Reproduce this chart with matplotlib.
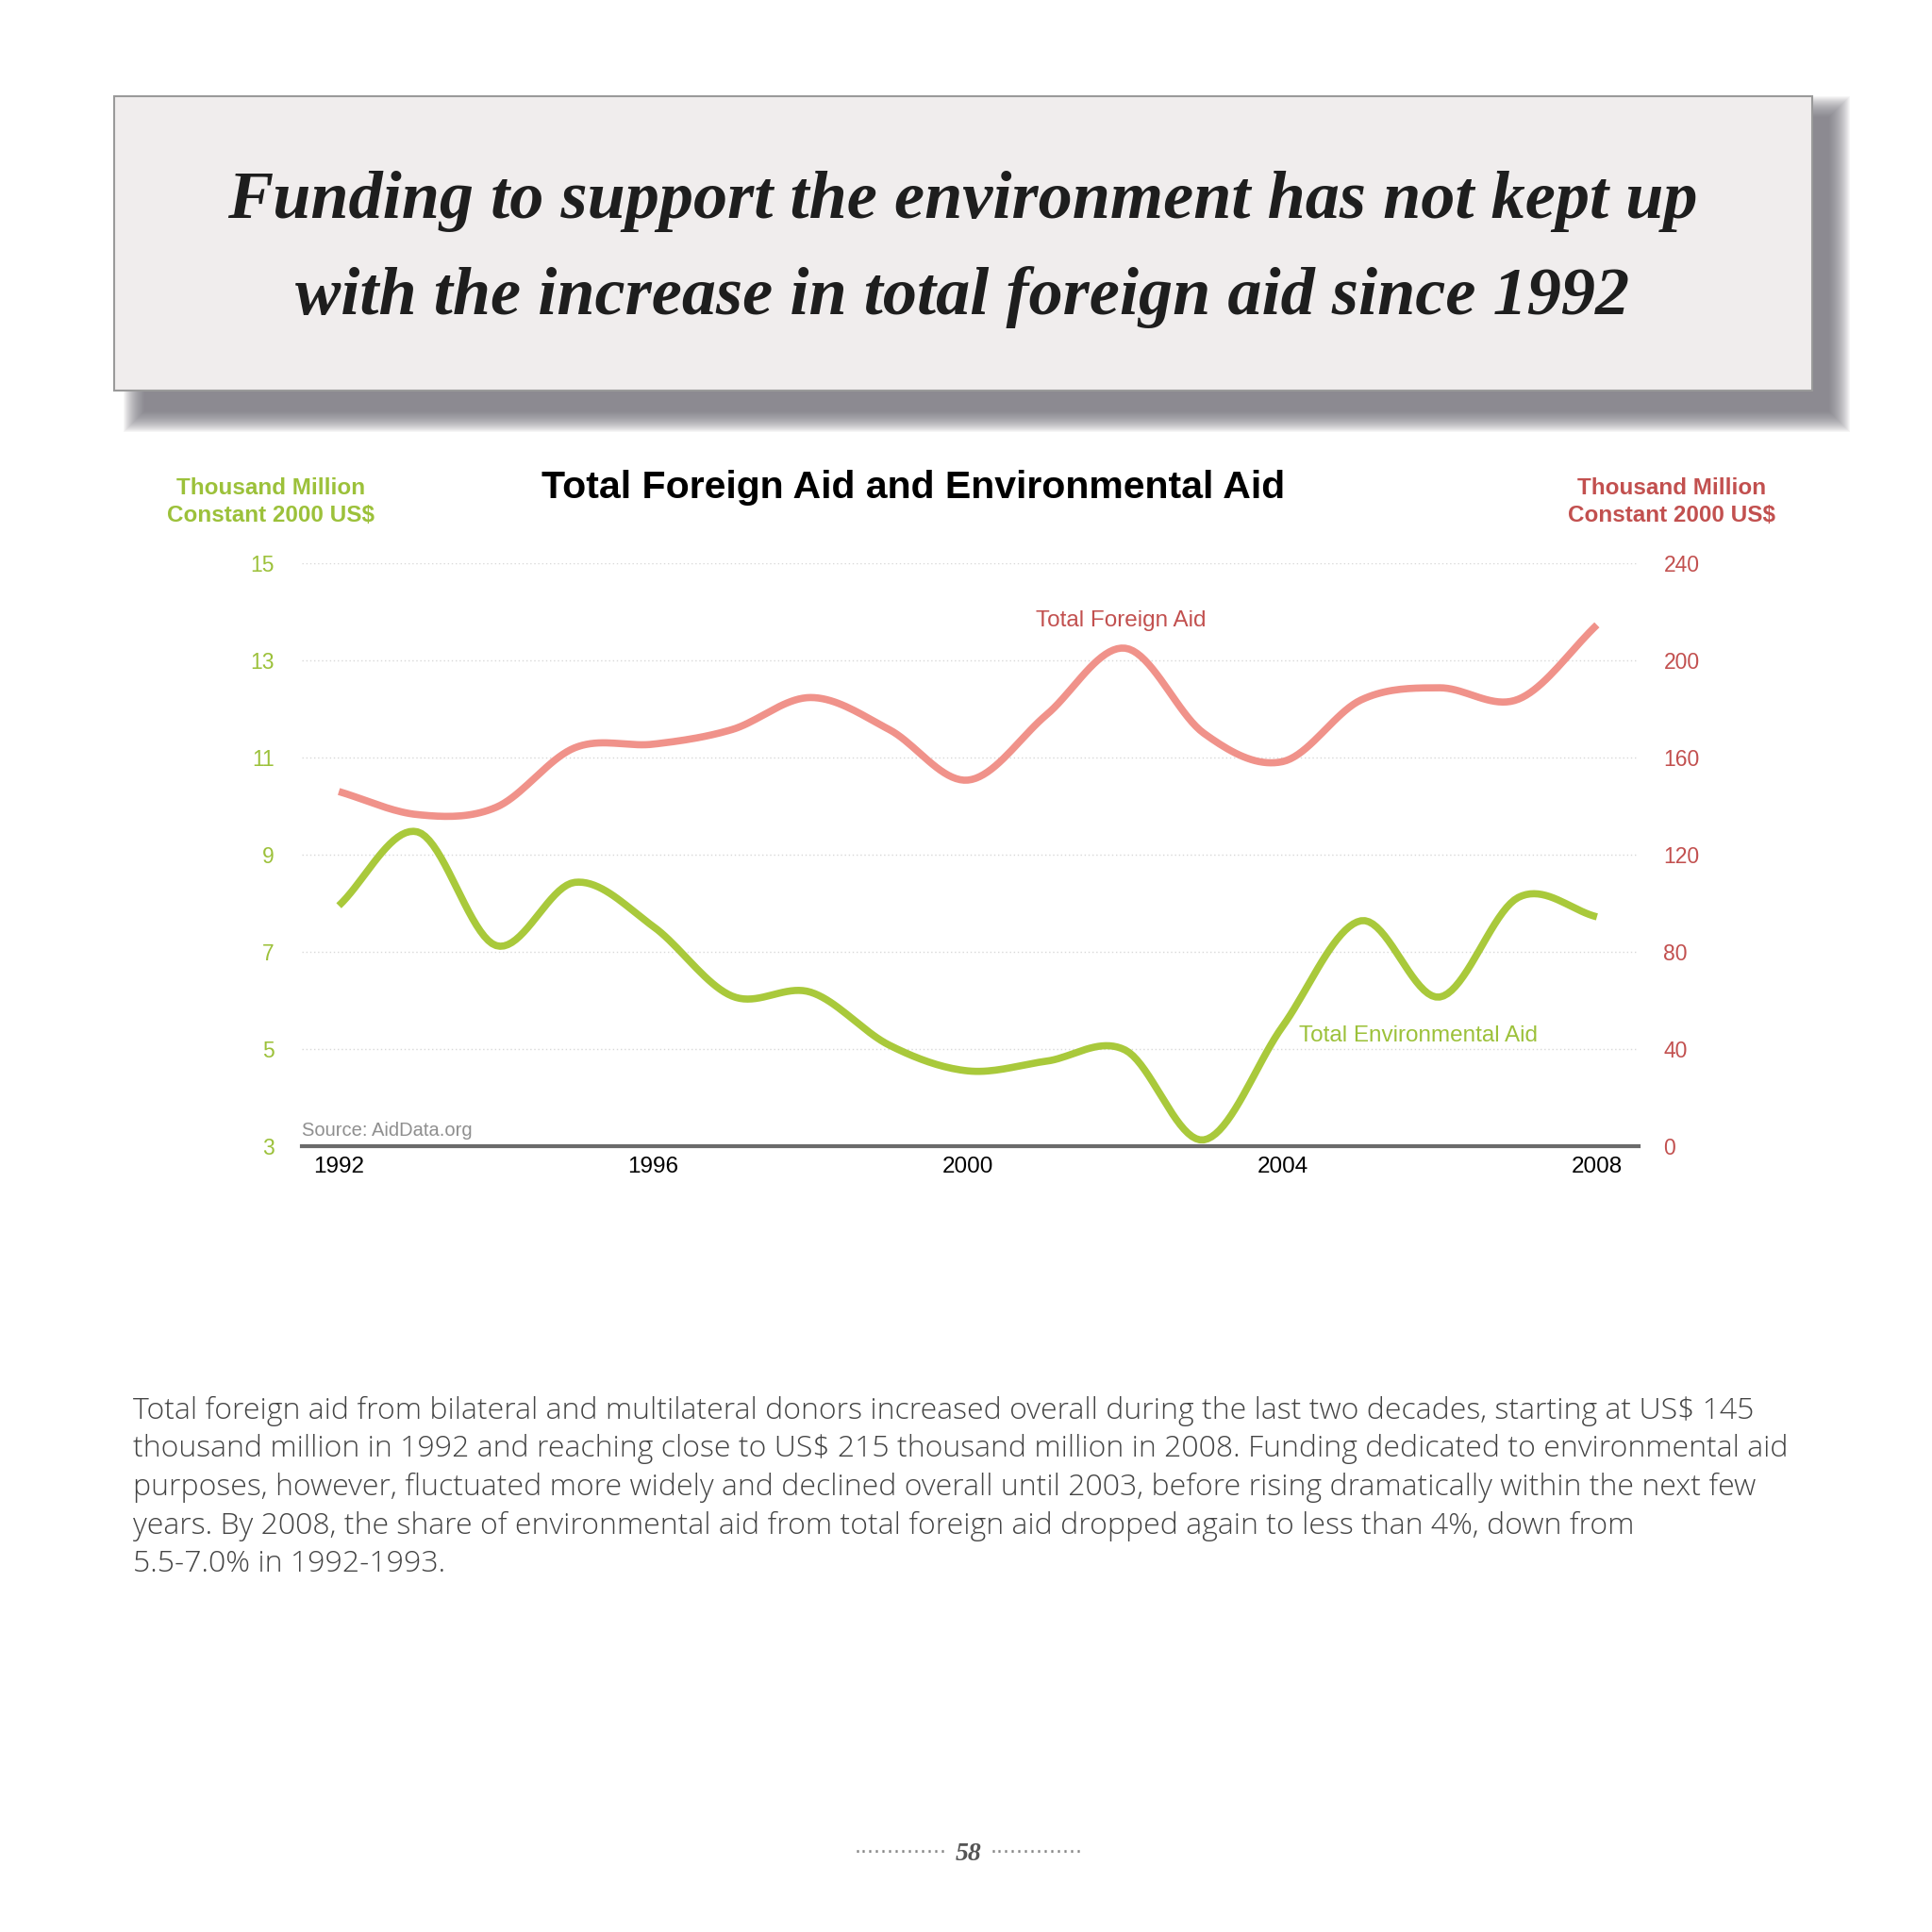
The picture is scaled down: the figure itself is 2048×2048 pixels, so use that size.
import numpy as np
import matplotlib
matplotlib.use("Agg")
import matplotlib.pyplot as plt
from matplotlib.patches import Rectangle

# data (yearly values)
years = list(range(1992, 2009))
foreign_aid = [146, 136.5, 139.5, 164, 165.5, 171.5, 184.7, 171.5, 150.7,
               177.6, 205, 170, 158.3, 183.7, 188.7, 184, 214.6]
env_aid = [7.95, 9.47, 7.13, 8.43, 7.52, 6.09, 6.17, 5.08, 4.55,
           4.75, 4.98, 3.13, 5.46, 7.64, 6.07, 8.12, 7.72]
left_ticks = [3, 5, 7, 9, 11, 13, 15]
right_ticks = [0, 40, 80, 120, 160, 200, 240]
year_ticks = [1992, 1996, 2000, 2004, 2008]

title = ("Funding to support the environment has not kept up",
         "with the increase in total foreign aid since 1992")
body = [
    "Total foreign aid from bilateral and multilateral donors increased overall during the last two decades, starting at US$ 145",
    "thousand million in 1992 and reaching close to US$ 215 thousand million in 2008. Funding dedicated to environmental aid",
    "purposes, however, \ufb02uctuated more widely and declined overall until 2003, before rising dramatically within the next few",
    "years. By 2008, the share of environmental aid from total foreign aid dropped again to less than 4%, down from",
    "5.5-7.0% in 1992-1993.",
]

GREEN = "#a9c93b"
GREEN_TXT = "#9cc13a"
RED_LINE = "#f0928a"
RED_TXT = "#c2504f"

W = 2048.0


def px(x, y):
    # pixel coords (top-left origin) -> figure fraction
    return x / W, 1 - y / W


def smooth(x, y, n=20):
    # catmull-rom curve through the points, only for drawing
    x = np.asarray(x, float)
    y = np.asarray(y, float)
    P = np.column_stack([x, y])
    P = np.vstack([2 * P[0] - P[1], P, 2 * P[-1] - P[-2]])
    out = []
    t = np.linspace(0, 1, n, endpoint=False)[:, None]
    for i in range(1, len(P) - 2):
        p0, p1, p2, p3 = P[i - 1], P[i], P[i + 1], P[i + 2]
        seg = 0.5 * ((2 * p1) + (-p0 + p2) * t + (2 * p0 - 5 * p1 + 4 * p2 - p3) * t ** 2
                     + (-p0 + 3 * p1 - 3 * p2 + p3) * t ** 3)
        out.append(seg)
    out.append(P[-2][None, :])
    out = np.vstack(out)
    return out[:, 0], out[:, 1]


fig = plt.figure(figsize=(20.48, 20.48), dpi=100)
fig.patch.set_facecolor("white")

# header box with soft shadow
bx0, by0, bx1, by1 = 121, 102, 1921, 414
ox, oy = 18, 22
for k in range(22, -1, -1):
    x0, y0 = px(bx0 + ox + 14 - k, by1 + oy + k)
    fig.patches.append(Rectangle((x0, y0), (bx1 - bx0 - 14 + 2 * k) / W, (by1 - by0 + 2 * k) / W,
                                 transform=fig.transFigure, facecolor="#6e6c74",
                                 edgecolor="none", alpha=0.06, zorder=1))
x0, y0 = px(bx0, by1)
fig.patches.append(Rectangle((x0, y0), (bx1 - bx0) / W, (by1 - by0) / W,
                             transform=fig.transFigure, facecolor="#f0eded",
                             edgecolor="#9a9a9a", linewidth=1.5, zorder=2))
for line, yy in zip(title, [213, 315]):
    fig.text(*px(1020, yy), line, ha="center", va="center", fontsize=52,
             family="Liberation Serif", style="italic", weight="bold",
             color="#1e1e1e", zorder=3)

# chart axes
ax_l, ax_r, ax_t, ax_b = 320, 1737, 597, 1215
ax = fig.add_axes([ax_l / W, 1 - ax_b / W, (ax_r - ax_l) / W, (ax_b - ax_t) / W])
ax.set_xlim(1991.53, 2008.53)
ax.set_ylim(3, 15)
ax.set_facecolor("none")
for s in ["top", "right", "left"]:
    ax.spines[s].set_visible(False)
ax.spines["bottom"].set_color("#6b6b6b")
ax.spines["bottom"].set_linewidth(3)
ax.set_yticks(left_ticks)
ax.set_yticklabels([str(v) for v in left_ticks], color=GREEN_TXT, fontsize=16.5,
                   family="Liberation Sans")
ax.set_xticks(year_ticks)
ax.set_xticklabels([str(v) for v in year_ticks], fontsize=17.5, family="Liberation Sans",
                   color="black")
ax.tick_params(axis="y", length=0, pad=21)
ax.tick_params(axis="x", length=0, pad=8)
for v in left_ticks[1:]:
    ax.axhline(v, color="#d8d8d8", linestyle=(0, (1, 2)), linewidth=1, zorder=0)

ax2 = ax.twinx()
ax2.set_ylim(0, 240)
ax2.set_yticks(right_ticks)
ax2.set_yticklabels([str(v) for v in right_ticks], color=RED_TXT, fontsize=16.5,
                    family="Liberation Sans")
ax2.tick_params(axis="y", length=0, pad=19)
for s in ["top", "right", "left", "bottom"]:
    ax2.spines[s].set_visible(False)

sx, sy = smooth(years, foreign_aid)
ax2.plot(sx, sy, color=RED_LINE, linewidth=5.5, solid_capstyle="butt", zorder=3)
ex, ey = smooth(years, env_aid)
ax.plot(ex, ey, color=GREEN, linewidth=5.5, solid_capstyle="butt", zorder=3, clip_on=False)

fig.text(*px(1188, 658), "Total Foreign Aid", ha="center", va="center", fontsize=17.5,
         family="Liberation Sans", color=RED_TXT)
fig.text(*px(1377, 1098), "Total Environmental Aid", ha="left", va="center", fontsize=17.5,
         family="Liberation Sans", color=GREEN_TXT)
fig.text(*px(320, 1199), "Source: AidData.org", ha="left", va="center", fontsize=14.5,
         family="Liberation Sans", color="#8f8f8f")

fig.text(*px(968, 517), "Total Foreign Aid and Environmental Aid", ha="center", va="center",
         fontsize=29.5, family="Liberation Sans", weight="bold", color="black")
fig.text(*px(287, 532), "Thousand Million\nConstant 2000 US$", ha="center", va="center",
         fontsize=17.5, family="Liberation Sans", weight="bold", color=GREEN_TXT,
         linespacing=1.3)
fig.text(*px(1772, 532), "Thousand Million\nConstant 2000 US$", ha="center", va="center",
         fontsize=17.5, family="Liberation Sans", weight="bold", color=RED_TXT,
         linespacing=1.3)

# body text
for i, line in enumerate(body):
    fig.text(*px(141, 1496 + i * 40.5), line, ha="left", va="center", fontsize=23,
             family=["Open Sans", "DejaVu Sans"], weight="light", color="#444444")

# page number
fig.text(*px(1027, 1966), "58", ha="center", va="center", fontsize=20,
         family="Liberation Serif", style="italic", weight="bold", color="#555555")
fig.text(*px(1004, 1964), "\u00b7" * 14, ha="right", va="center", fontsize=16,
         family="DejaVu Sans", color="#888888")
fig.text(*px(1050, 1964), "\u00b7" * 14, ha="left", va="center", fontsize=16,
         family="DejaVu Sans", color="#888888")

fig.savefig("out.png", dpi=100, facecolor="white")
